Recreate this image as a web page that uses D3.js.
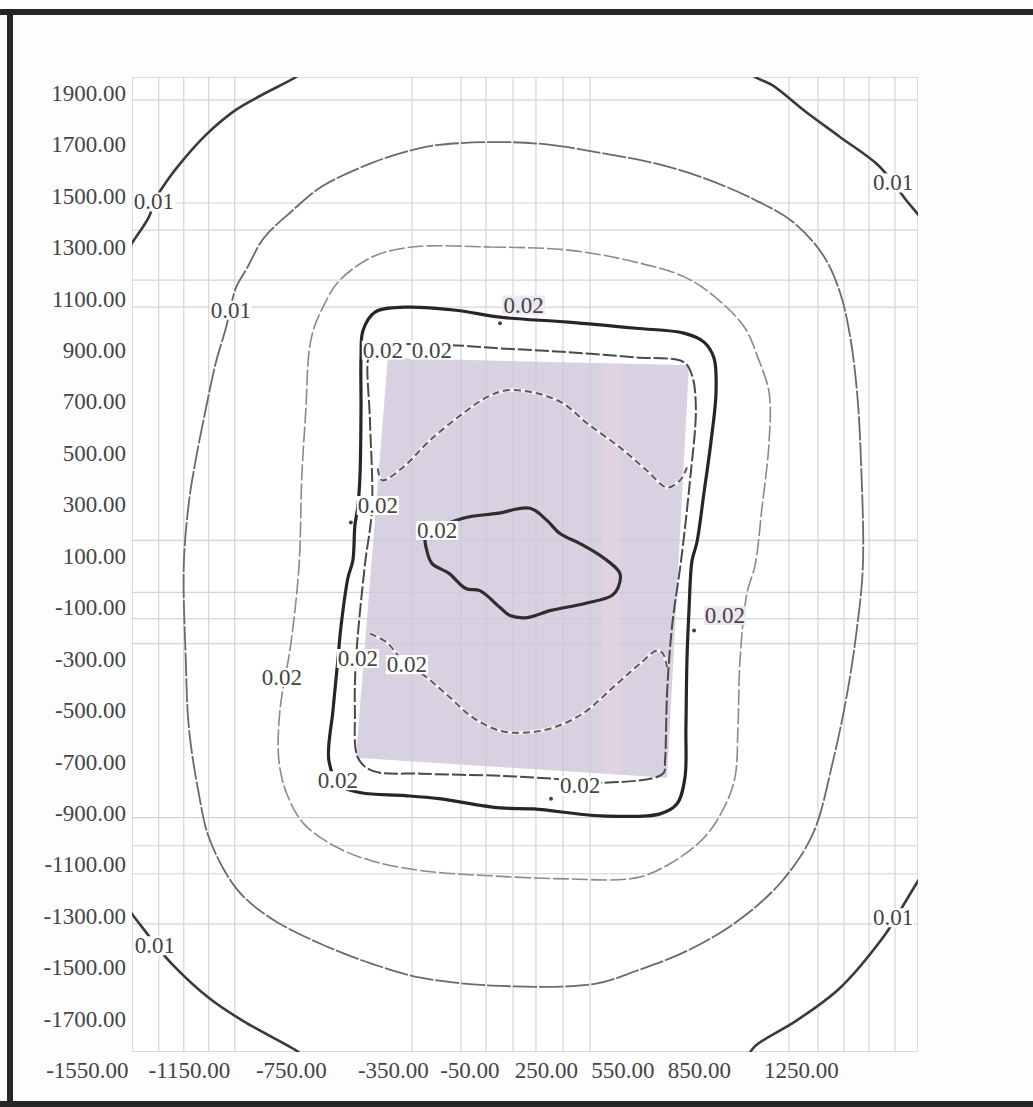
<!DOCTYPE html>
<html><head><meta charset="utf-8">
<script src="https://cdn.jsdelivr.net/npm/d3@7"></script>
<style>
html,body{margin:0;padding:0;background:#fff;}
svg text{font-family:"Liberation Serif","DejaVu Serif",serif;}
</style></head><body>
<svg id="chart" width="1033" height="1107"></svg>
<script>
// ---------- data ----------
const xDomain = [-1373, 1709];
const yDomain = [1962, -1829];
const xTickValues = [-1550, -1150, -750, -350, -50, 250, 550, 850, 1250];
const xTickLabels = ["-1550.00", "-1150.00", "-750.00", "-350.00", "-50.00", "250.00", "550.00", "850.00", "1250.00"];
const yTickValues = [1900, 1700, 1500, 1300, 1100, 900, 700, 500, 300, 100, -100, -300, -500, -700, -900, -1100, -1300, -1500, -1700];
const yTickLabels = ["1900.00", "1700.00", "1500.00", "1300.00", "1100.00", "900.00", "700.00", "500.00", "300.00", "100.00", "-100.00", "-300.00", "-500.00", "-700.00", "-900.00", "-1100.00", "-1300.00", "-1500.00", "-1700.00"];
const gridX = [-1268, -1170, -1072, -970, -275, -83, 15, 121, 211, 317, 423, 1203, 1317, 1419, 1517, 1619];
const gridY = [1873, 1472, 1367, 1172, 1067, 160, -42, -144, -241, -918, -1027, -1136, -1331];

// outer 0.01 contour (four corner arcs)
const outerTL = [[-700,1985],[-730,1962],[-864,1892],[-966,1834],[-1083,1737],[-1173,1639],[-1228,1569],[-1283,1484],[-1307,1417],[-1373,1316],[-1400,1270]];
const outerTR = [[1040,1985],[1070,1962],[1136,1931],[1270,1826],[1403,1729],[1552,1620],[1620,1540],[1662,1484],[1705,1433],[1740,1390]];
const outerBL = [[-1400,-1250],[-1373,-1292],[-1322,-1358],[-1271,-1424],[-1217,-1486],[-1071,-1619],[-938,-1708],[-726,-1825],[-700,-1845]];
const outerBR = [[1040,-1850],[1070,-1806],[1231,-1708],[1403,-1580],[1576,-1378],[1620,-1311],[1662,-1241],[1709,-1164],[1735,-1125]];

// second 0.01 contour (closed loop)
const loop01 = [[82,1709],[270,1698],[470,1666],[670,1628],[870,1569],[1070,1484],[1219,1398],[1337,1269],[1403,1125],[1442,958],[1470,736],[1485,479],[1493,63],[1470,-179],[1431,-436],[1376,-696],[1297,-980],[1176,-1164],[1003,-1319],[803,-1436],[603,-1514],[442,-1564],[70,-1572],[-236,-1541],[-432,-1486],[-632,-1409],[-832,-1307],[-966,-1191],[-1071,-996],[-1111,-825],[-1150,-568],[-1162,-307],[-1170,63],[-1150,308],[-1122,479],[-1083,674],[-1044,853],[-1005,985],[-966,1141],[-922,1219],[-856,1336],[-750,1437],[-632,1534],[-432,1628],[-275,1678],[-170,1698]];

// 0.02 outer contour (closed loop)
const loop02 = [[-275,1301],[31,1301],[337,1289],[603,1242],[803,1180],[936,1087],[1031,985],[1082,869],[1125,736],[1125,542],[1097,285],[1070,63],[1038,-46],[1011,-307],[1003,-568],[991,-763],[948,-880],[870,-996],[736,-1097],[603,-1152],[337,-1156],[31,-1144],[-236,-1124],[-432,-1086],[-566,-1035],[-699,-942],[-766,-825],[-797,-696],[-793,-502],[-750,-241],[-718,63],[-707,413],[-691,674],[-679,892],[-660,985],[-620,1075],[-566,1164],[-432,1262]];

// thick 0.02 contour (tilted rounded rectangle)
const rectContour = [[-475,869],[-467,977],[-420,1048],[-303,1067],[-103,1055],[70,1028],[337,1009],[603,985],[791,966],[870,931],[909,869],[917,736],[897,542],[870,347],[842,152],[823,82],[811,-112],[803,-307],[799,-568],[795,-763],[764,-864],[698,-903],[470,-911],[203,-884],[70,-880],[-170,-844],[-303,-832],[-475,-821],[-560,-790],[-601,-696],[-585,-502],[-566,-307],[-554,-179],[-526,16],[-507,82],[-499,218],[-487,296],[-479,413],[-475,674]];

// inner 0.02 contour around the shaded zone
const innerContour = [[-432,907],[-126,919],[70,907],[337,892],[603,872],[791,853],[823,802],[838,674],[815,394],[780,82],[744,-179],[725,-436],[717,-696],[709,-747],[470,-782],[270,-766],[70,-755],[-236,-747],[-432,-735],[-487,-685],[-499,-502],[-495,-307],[-460,63],[-432,285],[-440,627],[-448,861]];

// shaded zone
const shadedZone = [[-370,869],[811,841],[725,-763],[-495,-685]];
const pinkBand = [470, 540];

// wave contours inside the shaded zone
const upperWave = [[-409,440],[-393,394],[-311,444],[-205,549],[-75,654],[19,717],[97,744],[215,732],[317,693],[411,616],[540,522],[646,432],[725,366],[776,394],[803,444]];
const lowerWave = [[-440,-202],[-373,-237],[-322,-295],[-217,-373],[-126,-451],[-36,-529],[70,-580],[176,-587],[278,-568],[395,-513],[529,-397],[619,-319],[686,-268],[709,-280],[725,-334]];

// central 0.02 contour
const blob = [[-220,179],[-75,246],[58,265],[188,285],[254,238],[305,187],[384,148],[474,94],[540,32],[533,-23],[509,-54],[403,-85],[270,-112],[176,-140],[109,-132],[70,-101],[-9,-35],[-64,-27],[-130,32],[-197,71],[-217,121]];

// contour labels: [x, y, text, box]
const contourLabels = [
  [-1287, 1476, "0.01", "w"], [1611, 1550, "0.01", "w"], [-985, 1055, "0.01", "w"],
  [-1283, -1416, "0.01", "w"], [1611, -1307, "0.01", "w"], [-785, -373, "0.02", "w"],
  [163, 1075, "0.02", "p"], [-389, 900, "0.02", "w"], [-197, 900, "0.02", "w"],
  [-409, 296, "0.02", "w"], [-177, 199, "0.02", "w"], [952, -132, "0.02", "p"],
  [-487, -299, "0.02", "w"], [-295, -323, "0.02", "w"], [-566, -774, "0.02", "w"],
  [384, -793, "0.02", "w"]
];
const markers = [[70, 1005], [-515, 230], [831, -190], [270, -844]];

// ---------- drawing ----------
const svg = d3.select("#chart");
const x = d3.scaleLinear().domain(xDomain).range([132, 918]);
const y = d3.scaleLinear().domain(yDomain).range([77, 1052]);

svg.append("rect").attr("width", 1033).attr("height", 1107).attr("fill", "#fdfdfd");

svg.append("defs").append("clipPath").attr("id", "plotClip")
  .append("rect").attr("x", x(xDomain[0])).attr("y", y(yDomain[0]))
  .attr("width", x(xDomain[1]) - x(xDomain[0])).attr("height", y(yDomain[1]) - y(yDomain[0]));
svg.select("defs").append("clipPath").attr("id", "shadeClip")
  .append("path").attr("d", d3.line().x(d => x(d[0])).y(d => y(d[1]))(shadedZone) + "Z");

const plot = svg.append("g").attr("clip-path", "url(#plotClip)");
plot.append("rect").attr("x", x(xDomain[0])).attr("y", y(yDomain[0]))
  .attr("width", x(xDomain[1]) - x(xDomain[0])).attr("height", y(yDomain[1]) - y(yDomain[0]))
  .attr("fill", "#fff");

// grid
plot.selectAll(".gx").data(gridX).join("line")
  .attr("x1", d => x(d)).attr("x2", d => x(d)).attr("y1", y(yDomain[0])).attr("y2", y(yDomain[1]))
  .attr("stroke", "#d4d4d4").attr("stroke-width", 1.2);
plot.selectAll(".gy").data(gridY).join("line")
  .attr("y1", d => y(d)).attr("y2", d => y(d)).attr("x1", x(xDomain[0])).attr("x2", x(xDomain[1]))
  .attr("stroke", "#d4d4d4").attr("stroke-width", 1.2);
plot.append("rect").attr("x", x(xDomain[0])).attr("y", y(yDomain[0]))
  .attr("width", x(xDomain[1]) - x(xDomain[0])).attr("height", y(yDomain[1]) - y(yDomain[0]))
  .attr("fill", "none").attr("stroke", "#d0d0d0").attr("stroke-width", 1.5);

// shaded zone
const lin = d3.line().x(d => x(d[0])).y(d => y(d[1]));
plot.append("path").attr("d", lin(shadedZone) + "Z").attr("fill", "#cdc6da").attr("opacity", 0.8);
plot.append("g").attr("clip-path", "url(#shadeClip)").append("rect")
  .attr("x", x(pinkBand[0])).attr("width", x(pinkBand[1]) - x(pinkBand[0]))
  .attr("y", y(yDomain[0])).attr("height", y(yDomain[1]) - y(yDomain[0]))
  .attr("fill", "#ecd3e2").attr("opacity", 0.5);

const smooth = d3.line().x(d => x(d[0])).y(d => y(d[1])).curve(d3.curveCatmullRom.alpha(0.5));
const smoothClosed = d3.line().x(d => x(d[0])).y(d => y(d[1])).curve(d3.curveCatmullRomClosed.alpha(0.5));

[outerTL, outerTR, outerBL, outerBR].forEach(a => {
  plot.append("path").attr("d", smooth(a)).attr("fill", "none").attr("stroke", "#3a3a3a").attr("stroke-width", 2.6);
});
plot.append("path").attr("d", smoothClosed(loop01)).attr("fill", "none").attr("stroke", "#6a6a6a").attr("stroke-width", 1.8).attr("stroke-dasharray", "24 2");
plot.append("path").attr("d", smoothClosed(loop02)).attr("fill", "none").attr("stroke", "#8a8a8a").attr("stroke-width", 1.6).attr("stroke-dasharray", "16 3");
plot.append("path").attr("d", smoothClosed(rectContour)).attr("fill", "none").attr("stroke", "#262626").attr("stroke-width", 3.2);
plot.append("path").attr("d", smoothClosed(innerContour)).attr("fill", "none").attr("stroke", "#4a4a4a").attr("stroke-width", 2).attr("stroke-dasharray", "14 3");
[upperWave, lowerWave].forEach(a => {
  plot.append("path").attr("d", smooth(a)).attr("fill", "none").attr("stroke", "#f4f2f6").attr("stroke-width", 3.5);
  plot.append("path").attr("d", smooth(a)).attr("fill", "none").attr("stroke", "#5a5a5a").attr("stroke-width", 2).attr("stroke-dasharray", "7 4");
});
plot.append("path").attr("d", smoothClosed(blob)).attr("fill", "none").attr("stroke", "#2e2e2e").attr("stroke-width", 3.2);

plot.selectAll(".mk").data(markers).join("circle")
  .attr("cx", d => x(d[0])).attr("cy", d => y(d[1])).attr("r", 2).attr("fill", "#444");

// contour labels
const labG = svg.append("g");
contourLabels.forEach(d => {
  const g = labG.append("g");
  const t = g.append("text").attr("x", x(d[0])).attr("y", y(d[1]))
    .attr("text-anchor", "middle").attr("dominant-baseline", "central")
    .attr("font-size", 23).attr("fill", "#444").text(d[2]);
  const b = t.node().getBBox();
  g.insert("rect", "text").attr("x", b.x - 1).attr("y", b.y + 3).attr("width", b.width + 2).attr("height", b.height - 6)
    .attr("fill", d[3] === "p" ? "#efe7ef" : "#ffffff");
});

// axes
const xAxis = d3.axisBottom(x).tickValues(xTickValues).tickSize(0).tickPadding(8)
  .tickFormat((d, i) => xTickLabels[i]);
const gx = svg.append("g").attr("transform", `translate(0,${y(yDomain[1]) + 2})`).call(xAxis);
gx.select(".domain").remove();
gx.selectAll("text").attr("font-size", 23).attr("fill", "#444")
  .attr("font-family", "Liberation Serif, serif");

const yAxis = d3.axisLeft(y).tickValues(yTickValues).tickSize(0).tickPadding(6)
  .tickFormat((d, i) => yTickLabels[i]);
const gy = svg.append("g").attr("transform", `translate(${x(xDomain[0])},0)`).call(yAxis);
gy.select(".domain").remove();
gy.selectAll("text").attr("font-size", 23).attr("fill", "#444")
  .attr("font-family", "Liberation Serif, serif");

// scan frame
svg.append("rect").attr("x", 0).attr("y", 9).attr("width", 1033).attr("height", 6).attr("fill", "#262626");
svg.append("rect").attr("x", 7).attr("y", 9).attr("width", 6).attr("height", 1098).attr("fill", "#262626");
svg.append("rect").attr("x", 0).attr("y", 1101).attr("width", 1033).attr("height", 6).attr("fill", "#262626");
</script>
</body></html>
